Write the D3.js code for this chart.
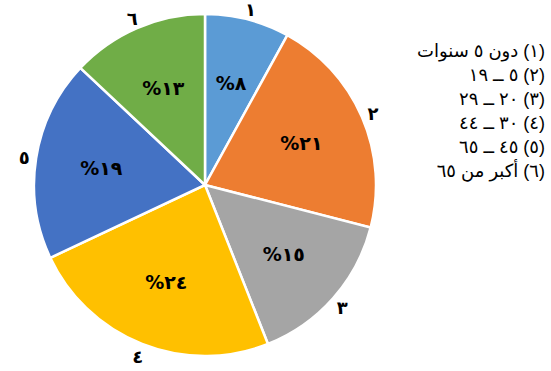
<!DOCTYPE html>
<html>
<head>
<meta charset="utf-8">
<script src="https://cdn.jsdelivr.net/npm/d3@7"></script>
<style>
  html, body { margin: 0; padding: 0; background: #fff; }
  #chart { position: relative; width: 551px; height: 371px; }
  svg { display: block; }
  .legend {
    position: absolute; right: 6px; top: 39px;
    direction: rtl; text-align: right;
    font-family: 'Liberation Sans', 'DejaVu Sans', sans-serif;
    font-size: 18px; line-height: 24px; color: #000;
    white-space: nowrap;
  }
</style>
</head>
<body>
<div id="chart"></div>
<script>
// slice data, clockwise from 12 o'clock
var categories = ["١", "٢", "٣", "٤", "٥", "٦"];
var values = [8, 21, 15, 24, 19, 13];
var pctLabels = ["%٨", "%٢١", "%١٥", "%٢٤", "%١٩", "%١٣"];
var legendLabels = [
  "(١) دون ٥ سنوات",
  "(٢) ٥ ــ ١٩",
  "(٣) ٢٠ ــ ٢٩",
  "(٤) ٣٠ ــ ٤٤",
  "(٥) ٤٥ ــ ٦٥",
  "(٦) أكبر من ٦٥"
];
var colors = ["#5B9BD5", "#ED7D31", "#A5A5A5", "#FFC000", "#4472C4", "#70AD47"];

var width = 551, height = 371,
    cx = 205, cy = 185, radius = 171;

var svg = d3.select("#chart").append("svg")
    .attr("width", width)
    .attr("height", height);

var color = d3.scaleOrdinal().domain(categories).range(colors);

var pie = d3.pie().sort(null).value(function(d) { return d.value; });
var arcs = pie(categories.map(function(c, i) {
  return { cat: c, value: values[i], pct: pctLabels[i] };
}));

var arc = d3.arc().innerRadius(0).outerRadius(radius);
var inLabel = d3.arc().innerRadius(105).outerRadius(105);
var outLabel = d3.arc().innerRadius(183).outerRadius(183);

var g = svg.append("g").attr("transform", "translate(" + cx + "," + cy + ")");

g.selectAll("path.slice")
    .data(arcs)
  .enter().append("path")
    .attr("class", "slice")
    .attr("d", arc)
    .attr("fill", function(d) { return color(d.data.cat); })
    .attr("stroke", "#fff")
    .attr("stroke-width", 2.5);

g.selectAll("text.pct")
    .data(arcs)
  .enter().append("text")
    .attr("class", "pct")
    .attr("transform", function(d) { return "translate(" + inLabel.centroid(d) + ")"; })
    .attr("text-anchor", "middle")
    .attr("dy", "0.35em")
    .style("font-family", "'DejaVu Sans', sans-serif")
    .style("font-weight", "bold")
    .style("font-size", "19px")
    .style("fill", "#000")
    .text(function(d) { return d.data.pct; });

g.selectAll("text.cat")
    .data(arcs)
  .enter().append("text")
    .attr("class", "cat")
    .attr("transform", function(d) { return "translate(" + outLabel.centroid(d) + ")"; })
    .attr("text-anchor", "middle")
    .attr("dy", "0.45em")
    .style("font-family", "'DejaVu Sans', sans-serif")
    .style("font-weight", "bold")
    .style("font-size", "18px")
    .style("fill", "#000")
    .text(function(d) { return d.data.cat; });

// legend: plain rtl html block, right aligned
d3.select("#chart").append("div")
    .attr("class", "legend")
  .selectAll("div")
    .data(legendLabels)
  .enter().append("div")
    .text(function(d) { return d; });
</script>
</body>
</html>
